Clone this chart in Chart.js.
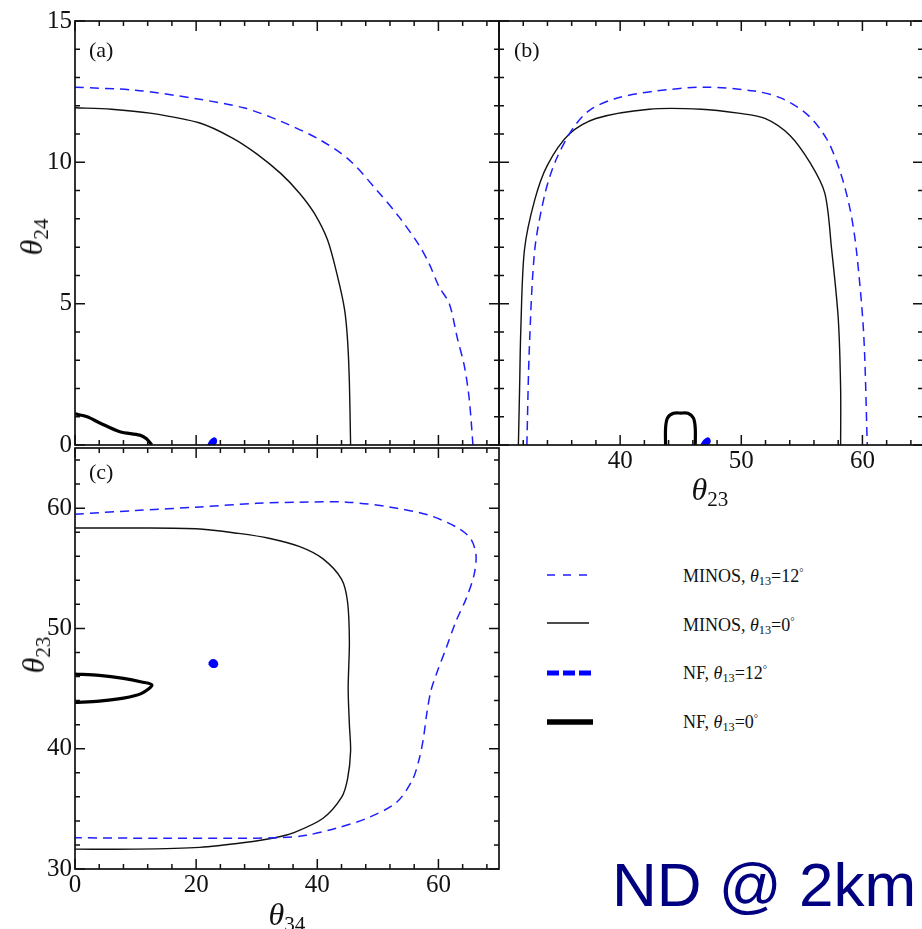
<!DOCTYPE html>
<html><head><meta charset="utf-8">
<script src="https://cdn.jsdelivr.net/npm/chart.js@4.4.1/dist/chart.umd.min.js"></script>
<style>
html,body{margin:0;padding:0;background:#fff;overflow:hidden;width:922px;height:929px;position:relative}
canvas{position:absolute}
.t{position:absolute;font-family:"Liberation Serif","Times New Roman",serif;color:#111;white-space:nowrap;line-height:1}
.t sub{font-size:0.68em;vertical-align:-0.28em;line-height:0}
.t sup{font-size:0.6em;vertical-align:0.55em;line-height:0}
.ax{font-size:32px}
.ax sub{font-size:0.66em}
.leg{font-size:18px;line-height:18px}
svg{position:absolute;overflow:visible}
</style></head><body>
<canvas id="ca" width="520" height="470" style="left:0;top:0"></canvas>
<canvas id="cb" width="460" height="500" style="left:480px;top:0"></canvas>
<canvas id="cc" width="520" height="499" style="left:0;top:430px"></canvas>

<div class="t" style="left:89px;top:39px;font-size:22px">(a)</div>
<div class="t" style="left:514px;top:39px;font-size:22px">(b)</div>
<div class="t" style="left:89px;top:461px;font-size:22px">(c)</div>

<div class="t ax" style="left:31px;top:237px;transform:translate(-50%,-50%) rotate(-90deg)"><i>θ</i><sub>24</sub></div>
<div class="t ax" style="left:33px;top:655px;transform:translate(-50%,-50%) rotate(-90deg)"><i>θ</i><sub>23</sub></div>
<div class="t ax" style="left:710px;top:489px;transform:translate(-50%,-50%)"><i>θ</i><sub>23</sub></div>
<div class="t ax" style="left:287px;top:914px;transform:translate(-50%,-50%)"><i>θ</i><sub>34</sub></div>

<svg width="60" height="10" style="left:547px;top:570px"><line x1="0" y1="5" x2="42" y2="5" stroke="rgb(30,30,255)" stroke-width="1.5" stroke-dasharray="8,8"/></svg>
<svg width="60" height="10" style="left:547px;top:618px"><line x1="0" y1="5" x2="42" y2="5" stroke="#111" stroke-width="1.5"/></svg>
<svg width="60" height="10" style="left:547px;top:668px"><line x1="0" y1="5" x2="46" y2="5" stroke="#0000ff" stroke-width="5" stroke-dasharray="12,4"/></svg>
<svg width="60" height="10" style="left:547px;top:717px"><line x1="0" y1="5" x2="46" y2="5" stroke="#000" stroke-width="5.5"/></svg>

<div class="t leg" style="left:683px;top:567px">MINOS, <i>θ</i><sub>13</sub>=12<sup>°</sup></div>
<div class="t leg" style="left:683px;top:616px">MINOS, <i>θ</i><sub>13</sub>=0<sup>°</sup></div>
<div class="t leg" style="left:683px;top:664px">NF, <i>θ</i><sub>13</sub>=12<sup>°</sup></div>
<div class="t leg" style="left:683px;top:713px">NF, <i>θ</i><sub>13</sub>=0<sup>°</sup></div>

<div style="position:absolute;left:612px;top:854px;font-family:'Liberation Sans',Arial,sans-serif;font-size:62px;line-height:62px;color:#000080;white-space:nowrap">ND @ 2km</div>

<script>
// ---------- Panel (a): theta24 (y) vs theta34 (x) ----------
const a_minos0_x = [0, 6, 12.4, 20.6, 26, 30, 34, 37.1, 39.5, 41.7, 43.3, 44.5, 45.0, 45.3, 45.5];
const a_minos0_y = [11.93, 11.88, 11.74, 11.39, 10.86, 10.3, 9.6, 8.9, 8.2, 7.25, 6.0, 4.8, 3.7, 2.2, 0];
const a_minos12_x = [0, 10, 20, 28, 34, 40.4, 45.3, 49.8, 53.5, 56.8, 58.5, 60.1, 61.8, 63.1, 64.3, 65.1, 65.7];
const a_minos12_y = [12.66, 12.55, 12.25, 11.92, 11.45, 10.8, 10.08, 9.02, 8.07, 7.07, 6.4, 5.6, 5.0, 3.8, 2.77, 1.6, 0];
const a_nf0_x = [0, 2, 4.1, 7.4, 10.7, 11.8, 12.7];
const a_nf0_y = [1.1, 1.0, 0.78, 0.47, 0.35, 0.22, 0];
const a_nf12_x = [22.0, 22.4, 23.0, 23.3, 23.0, 22.4, 22.0];
const a_nf12_y = [0.0, 0.15, 0.24, 0.12, 0.02, 0.0, 0.0];

// ---------- Panel (b): theta24 (y) vs theta23 (x) ----------
const b_minos0_x = [31.6, 31.7, 31.8, 32.1, 32.95, 34.0, 35.8, 38.0, 42.4, 46.7, 49.75, 52.0, 54.0, 55.7, 56.9, 57.45, 58.0, 58.2, 58.2];
const b_minos0_y = [0, 2.0, 4.07, 6.9, 8.67, 9.9, 11.0, 11.55, 11.88, 11.88, 11.74, 11.55, 10.96, 9.97, 8.9, 6.95, 4.5, 2.0, 0];
const b_minos12_x = [32.3, 32.5, 32.95, 33.8, 34.7, 36.1, 37.5, 39.7, 42.9, 47.0, 51.1, 53.3, 55.5, 57.1, 58.2, 59.0, 59.5, 60.1, 60.4];
const b_minos12_y = [0, 3.36, 6.9, 8.9, 10.08, 11.2, 11.85, 12.27, 12.52, 12.66, 12.52, 12.27, 11.67, 10.79, 9.62, 8.3, 6.9, 3.96, 0];
const b_nf0_x = [43.75, 43.75, 43.9, 44.4, 45.0, 45.6, 46.05, 46.2, 46.2];
const b_nf0_y = [0, 0.6, 0.95, 1.12, 1.13, 1.12, 0.95, 0.6, 0];
const b_nf12_x = [46.7, 46.95, 47.25, 47.4, 47.2, 46.9, 46.7];
const b_nf12_y = [0.0, 0.16, 0.24, 0.12, 0.02, 0.0, 0.0];

// ---------- Panel (c): theta23 (y) vs theta34 (x) ----------
const c_minos0_x = [0, 10, 20.6, 27, 32, 37.1, 40.9, 44.0, 45.0, 45.3, 45.1, 45.3, 45.5, 45.0, 44.0, 40.9, 36, 33, 28, 20.6, 10, 0];
const c_minos0_y = [58.35, 58.35, 58.27, 57.9, 57.5, 56.8, 55.8, 54.1, 52.2, 48.9, 45.0, 42.0, 39.8, 37.5, 35.95, 34.2, 33.0, 32.6, 32.2, 31.8, 31.65, 31.65];
const c_minos12_x = [0, 10, 20.6, 30, 37.1, 44.8, 51.9, 58.5, 63.4, 65.4, 66.2, 65.9, 64.6, 62.9, 61.3, 59.8, 58.8, 58.1, 57.5, 56.8, 55.7, 53.0, 48.1, 43.2, 38.2, 33.8, 26, 15, 0];
const c_minos12_y = [59.5, 59.8, 60.1, 60.4, 60.5, 60.5, 60.1, 59.4, 58.3, 57.4, 56.1, 54.5, 52.5, 50.6, 48.4, 46.4, 44.9, 43.0, 40.8, 39.1, 37.4, 35.5, 34.2, 33.4, 32.8, 32.6, 32.56, 32.55, 32.6];
const c_nf0_x = [0, 4, 8, 11, 12.7, 11, 8, 4, 0];
const c_nf0_y = [46.2, 46.1, 45.85, 45.55, 45.3, 44.6, 44.2, 43.95, 43.85];
const c_nf12_x = [22.1, 22.6, 23.2, 23.5, 23.1, 22.5, 22.1];
const c_nf12_y = [47.1, 47.35, 47.3, 47.0, 46.8, 46.85, 47.1];

// ---------- Tick values / labels ----------
const t34_labels = [0, 20, 40, 60];
const t34_minor = [4, 8, 12, 16, 24, 28, 32, 36, 44, 48, 52, 56, 64, 68];
const t24_labels = [0, 5, 10, 15];
const t24_minor = [1, 2, 3, 4, 6, 7, 8, 9, 11, 12, 13, 14];
const t23b_labels = [40, 50, 60];
const t23b_major = [30, 40, 50, 60];
const t23_minor = [32, 34, 36, 38, 42, 44, 46, 48, 52, 54, 56, 58, 62, 64];
const t23c_labels = [30, 40, 50, 60];

const BLUE = 'rgb(30,30,255)', BLACK = '#111';
const pts = (xs, ys) => xs.map((x, i) => ({x: x, y: ys[i]}));

function ds(xs, ys, kind) {
  const base = {data: pts(xs, ys), showLine: true, pointRadius: 0, pointHoverRadius: 0, tension: 0.3, fill: false};
  if (kind === 'm12') return Object.assign(base, {borderColor: BLUE, borderWidth: 1.5, borderDash: [9, 6]});
  if (kind === 'm0') return Object.assign(base, {borderColor: BLACK, borderWidth: 1.4});
  if (kind === 'n0') return Object.assign(base, {borderColor: '#000', borderWidth: 3.2});
  return Object.assign(base, {borderColor: '#0000ff', backgroundColor: '#0000ff', borderWidth: 2, tension: 0.4, fill: 'shape'});
}

const frameTicks = {
  id: 'frameTicks',
  afterDatasetsDraw(chart, args, o) {
    const ctx = chart.ctx, a = chart.chartArea, xs = chart.scales.x, ys = chart.scales.y;
    ctx.save();
    ctx.strokeStyle = '#111';
    ctx.lineWidth = 1.7;
    ctx.strokeRect(a.left, a.top, a.right - a.left, a.bottom - a.top);
    ctx.lineWidth = 1.5;
    ctx.beginPath();
    const xt = (vals, len) => vals.forEach(v => {
      const p = xs.getPixelForValue(v);
      ctx.moveTo(p, a.bottom); ctx.lineTo(p, a.bottom - len);
      ctx.moveTo(p, a.top); ctx.lineTo(p, a.top + len);
    });
    const yt = (vals, len) => vals.forEach(v => {
      const p = ys.getPixelForValue(v);
      ctx.moveTo(a.left, p); ctx.lineTo(a.left + len, p);
      ctx.moveTo(a.right, p); ctx.lineTo(a.right - len, p);
    });
    xt(o.xMajor, 10); xt(o.xMinor, 5); yt(o.yMajor, 10); yt(o.yMinor, 5);
    ctx.stroke();
    ctx.restore();
  }
};

const tickFont = {family: "'Liberation Serif','Times New Roman',serif", size: 25};

function axis(min, max, labels, fitSize, horizontal) {
  const s = {
    type: 'linear', min: min, max: max,
    grid: {display: false, drawTicks: false},
    border: {display: false},
    ticks: {display: !!labels, font: tickFont, color: '#111', padding: horizontal ? 1 : 3, maxRotation: 0, autoSkip: false},
    afterFit: sc => { if (horizontal) sc.height = fitSize; else sc.width = fitSize; }
  };
  if (labels) s.afterBuildTicks = sc => { sc.ticks = labels.map(v => ({value: v})); };
  return s;
}

function make(id, datasets, xs, ys, pad, ticksCfg) {
  return new Chart(document.getElementById(id), {
    type: 'scatter',
    data: {datasets: datasets},
    options: {
      responsive: false, animation: false, events: [],
      layout: {padding: pad},
      plugins: {legend: {display: false}, tooltip: {enabled: false}, frameTicks: ticksCfg},
      scales: {x: xs, y: ys}
    },
    plugins: [frameTicks]
  });
}

// Panel (a)
make('ca', [
  ds(a_minos12_x, a_minos12_y, 'm12'),
  ds(a_minos0_x, a_minos0_y, 'm0'),
  ds(a_nf0_x, a_nf0_y, 'n0'),
  ds(a_nf12_x, a_nf12_y, 'n12')
], axis(0, 70, null, 25, true), axis(0, 15, t24_labels, 75, false),
  {left: 0, top: 21, right: 21, bottom: 0},
  {xMajor: t34_labels, xMinor: t34_minor, yMajor: t24_labels, yMinor: t24_minor});

// Panel (b)
make('cb', [
  ds(b_minos12_x, b_minos12_y, 'm12'),
  ds(b_minos0_x, b_minos0_y, 'm0'),
  ds(b_nf0_x, b_nf0_y, 'n0'),
  ds(b_nf12_x, b_nf12_y, 'n12')
], axis(30, 65, t23b_labels, 55, true), axis(0, 15, null, 19, false),
  {left: 0, top: 21, right: 17, bottom: 0},
  {xMajor: t23b_major, xMinor: t23_minor, yMajor: t24_labels, yMinor: t24_minor});

// Panel (c)
make('cc', [
  ds(c_minos12_x, c_minos12_y, 'm12'),
  ds(c_minos0_x, c_minos0_y, 'm0'),
  ds(c_nf0_x, c_nf0_y, 'n0'),
  ds(c_nf12_x, c_nf12_y, 'n12')
], axis(0, 70, t34_labels, 60, true), axis(30, 65, t23c_labels, 75, false),
  {left: 0, top: 15, right: 21, bottom: 0},
  {xMajor: t34_labels, xMinor: t34_minor, yMajor: t23c_labels, yMinor: t23_minor});
</script>
</body></html>
